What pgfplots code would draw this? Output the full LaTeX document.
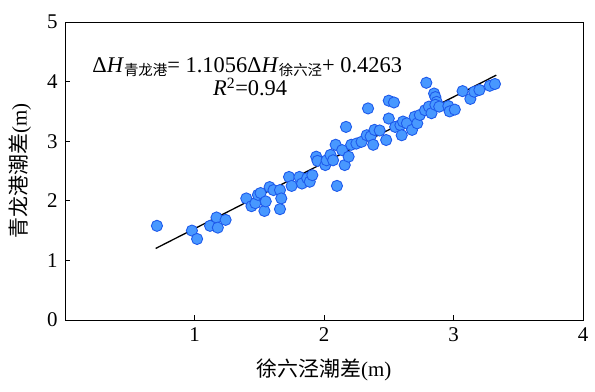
\documentclass[border=0pt]{standalone}
\usepackage{pgfplots}
\pgfplotsset{compat=1.18}
\usepackage{fontspec}
\setmainfont{Liberation Serif}
\newfontfamily\cjk{Noto Sans CJK SC}
\definecolor{ptfill}{RGB}{72,152,255}
\definecolor{ptedge}{RGB}{30,90,235}
\pgfplotstableread{
x y
0.71 1.58
0.98 1.50
1.02 1.36
1.12 1.58
1.17 1.72
1.18 1.55
1.24 1.68
1.40 2.04
1.44 1.91
1.47 1.96
1.49 2.10
1.51 2.13
1.54 1.83
1.55 1.99
1.58 2.23
1.61 2.18
1.66 2.18
1.67 2.04
1.66 1.86
1.73 2.40
1.75 2.25
1.81 2.40
1.83 2.29
1.87 2.38
1.89 2.32
1.91 2.43
1.94 2.74
1.95 2.67
2.01 2.60
2.02 2.68
2.05 2.77
2.07 2.68
2.09 2.94
2.10 2.25
2.14 2.85
2.16 2.60
2.17 3.24
2.19 2.74
2.21 2.94
2.25 2.96
2.29 2.99
2.33 3.10
2.34 3.55
2.36 3.08
2.38 2.94
2.39 3.19
2.43 3.18
2.48 3.02
2.50 3.38
2.50 3.68
2.54 3.65
2.55 3.24
2.59 3.27
2.60 3.10
2.61 3.33
2.64 3.30
2.68 3.19
2.70 3.41
2.72 3.30
2.74 3.44
2.78 3.52
2.79 3.98
2.81 3.58
2.83 3.47
2.85 3.80
2.86 3.74
2.87 3.66
2.86 3.61
2.89 3.58
2.96 3.59
2.97 3.50
3.01 3.53
3.07 3.84
3.13 3.71
3.16 3.83
3.20 3.86
3.28 3.93
3.32 3.96
}\pts
\begin{document}
\begin{tikzpicture}
\useasboundingbox (0,0) rectangle (595bp,392bp);
\begin{axis}[
  at={(65bp,72bp)}, anchor=south west,
  scale only axis, width=518bp, height=298bp,
  xmin=0, xmax=4, ymin=0, ymax=5,
  xtick={1,2,3,4}, ytick={0,1,2,3,4,5},
  tick align=inside, major tick length=5bp,
  xtick pos=bottom, ytick pos=left,
  axis line style={line width=1pt},
  tick style={black, line width=0.8pt},
  tick label style={font=\fontsize{21}{24}\selectfont},
  /pgf/number format/assume math mode=true,
  xticklabel style={yshift=-4bp},
  yticklabel style={xshift=-4bp},
  xlabel={{\cjk 徐六泾潮差}(m)},
  ylabel={{\cjk 青龙港潮差}(m)},
  label style={font=\fontsize{21}{24}\selectfont},
  xlabel style={at={(axis description cs:0.5,-0.168)}, anchor=center},
  ylabel style={at={(axis description cs:-0.087,0.5)}, anchor=center},
  clip=false,
]
\addplot[only marks, mark=*, mark size=5.6bp,
  mark options={fill=ptfill, draw=ptedge, line width=0.9pt}] table[x=x,y=y] {\pts};
\addplot[black, line width=1.3pt] coordinates {(0.70,1.2002) (3.33,4.108)};
\node[anchor=base west, font=\fontsize{22.5}{26}\selectfont, inner sep=0pt] at (axis cs:0.21,4.16)
  {Δ\textit{H}\raisebox{-3.5bp}{\cjk\fontsize{14.5}{16}\selectfont 青龙港}= 1.1056Δ\textit{H}\raisebox{-3.5bp}{\cjk\fontsize{14.5}{16}\selectfont 徐六泾}+ 0.4263};
\node[anchor=base, font=\fontsize{22.5}{26}\selectfont, inner sep=0pt] at (axis cs:1.43,3.76)
  {\textit{R}\textsuperscript{2}=0.94};
\end{axis}
\end{tikzpicture}
\end{document}
